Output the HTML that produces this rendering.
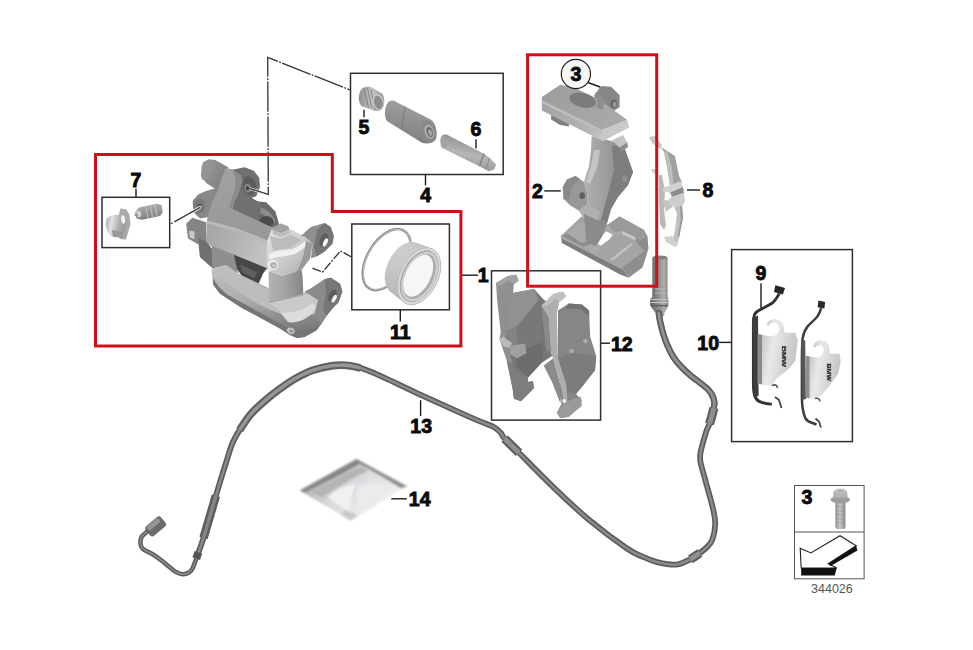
<!DOCTYPE html>
<html lang="en">
<head>
<meta charset="utf-8">
<title>Rear brake caliper parts diagram 344026</title>
<style>
html,body{margin:0;padding:0;background:#fff;}
body{width:973px;height:650px;overflow:hidden;}
svg{display:block;}
.lbl{font-family:"Liberation Sans",Arial,sans-serif;font-weight:bold;font-size:19.5px;fill:#0a0a0a;stroke:#0a0a0a;stroke-width:0.9px;text-anchor:middle;}
.box{fill:none;stroke:#2e2e2e;stroke-width:1.5px;}
.ld{stroke:#1c1c1c;stroke-width:1.4px;fill:none;}
.red{fill:none;stroke:#cd1019;stroke-width:3px;stroke-linejoin:miter;}
</style>
</head>
<body>
<svg width="973" height="650" viewBox="0 0 973 650">
<defs>
<filter id="soft" x="-5%" y="-5%" width="110%" height="110%"><feGaussianBlur stdDeviation="0.6"/></filter>
<filter id="soft2" x="-5%" y="-5%" width="110%" height="110%"><feGaussianBlur stdDeviation="1.1"/></filter>
<linearGradient id="cab" x1="0" y1="0" x2="0" y2="1"><stop offset="0" stop-color="#9a9a9a"/><stop offset="1" stop-color="#5c5c5c"/></linearGradient>
</defs>
<rect width="973" height="650" fill="#ffffff"/>

<!-- ===== PARTS ===== -->
<g id="parts">
<!-- 10_caliper.svg -->
<g id="caliper" filter="url(#soft)">
<defs>
<linearGradient id="cgA" x1="0" y1="0" x2="0" y2="1"><stop offset="0" stop-color="#a2a2a2"/><stop offset="1" stop-color="#979797"/></linearGradient>
<linearGradient id="cgF" x1="0" y1="0" x2="1" y2="0.4"><stop offset="0" stop-color="#a3a3a3"/><stop offset="0.6" stop-color="#b4b4b4"/><stop offset="1" stop-color="#c2c2c2"/></linearGradient>
<linearGradient id="cgBr" x1="0" y1="0" x2="0.3" y2="1"><stop offset="0" stop-color="#c2c2c2"/><stop offset="0.5" stop-color="#adadad"/><stop offset="1" stop-color="#7a7a7a"/></linearGradient>
<linearGradient id="cgCyl" x1="0" y1="0" x2="1" y2="0.7"><stop offset="0" stop-color="#9a9a9a"/><stop offset="1" stop-color="#7e7e7e"/></linearGradient>
<linearGradient id="cgCol" x1="0" y1="0" x2="1" y2="0"><stop offset="0" stop-color="#b2b2b2"/><stop offset="0.45" stop-color="#a4a4a4"/><stop offset="1" stop-color="#858585"/></linearGradient>
<linearGradient id="cgEnd" x1="0" y1="0" x2="1" y2="1"><stop offset="0" stop-color="#e6e6e6"/><stop offset="0.5" stop-color="#cdcdcd"/><stop offset="1" stop-color="#a9a9a9"/></linearGradient>
</defs>
<!-- left bracket -->
<path d="M186.2,223.8 L192.3,217.7 L206.2,222.3 L207,250 L212.3,249.2 L212.5,268 L200,256.9 L198.5,244.6 L188,238.5 Z" fill="#858585"/>
<path d="M198.5,238 L207,242 L212.3,249.2 L212.5,268 L200,256.9 Z" fill="#707070"/>
<path d="M189.2,230.5 L194.4,231.5 L194.6,239.2 L189.6,237.6 Z" fill="#c8c8c8"/>
<!-- left boss -->
<path d="M192.6,201 L198,194.4 L206,191 L218,187.5 L226,191 L216,206 L208.5,217 L200,218.6 L193.6,212.5 Z" fill="#888"/>
<ellipse cx="199.2" cy="206.2" rx="6.2" ry="7.4" fill="#7a7a7a"/>
<ellipse cx="199.8" cy="206.8" rx="2.7" ry="3" fill="#525252"/>
<ellipse cx="200.6" cy="207" rx="1.2" ry="1.3" fill="#d6d6d6"/>
<!-- top cylinder -->
<path d="M201.5,166.9 L203.1,162.3 L208.5,159.2 L215.4,160 L228.5,167.5 L226,176 L220,192 L206.2,183.1 L201.5,176.2 Z" fill="url(#cgCyl)"/>
<ellipse cx="207" cy="171" rx="5.2" ry="9.6" fill="#949494" transform="rotate(22 207 171)"/>
<!-- dark boss right -->
<path d="M231,170 L244.6,167.2 L253.8,170.8 L259.2,177.7 L260,186.9 L256.2,196.2 L247.7,199.2 L238,200 Z" fill="#6f6f6f"/>
<ellipse cx="249.4" cy="185.6" rx="6.6" ry="9.4" fill="#5b5b5b" transform="rotate(-15 249.4 185.6)"/>
<ellipse cx="247.8" cy="188.2" rx="3.2" ry="4.2" fill="#8c8c8c" transform="rotate(-15 247.8 188.2)"/>
<ellipse cx="247.6" cy="188.4" rx="1.7" ry="2.4" fill="#444" transform="rotate(-15 247.6 188.4)"/>
<!-- second dark cylinder -->
<path d="M238,198 L252.3,200.8 L266.2,202.3 L275.4,211.5 L278.5,222.3 L280,232 L268,228 L240,212 Z" fill="#6a6a6a"/>
<path d="M246,210 C256,203.5 270,207 276,222 L270,223 C266,213.5 257,210.5 249,214 Z" fill="#8b8b8b"/>
<ellipse cx="266.5" cy="221.6" rx="7" ry="5.6" fill="#4c4c4c"/>
<path d="M236,186 L252,198 L262,204 L258,222 L232,210 Z" fill="#707070"/>
<!-- arm + top face -->
<path d="M225.4,168.2 L232.3,169.2 L240.8,175.4 L242.3,180.8 L239.2,190.8 L233.8,203.8 L232.4,209 L272.5,227.5 L268,242 L236.5,229 L207,221 L207.7,216.2 L211.5,203.8 L216.2,194.6 L220.8,180.8 Z" fill="url(#cgA)"/>
<path d="M232.3,169.2 L240.8,175.4 L242.3,180.8 L239.2,190.8 L233.8,203.8 L232.4,209 L229,206.5 L234.5,190 L235.5,178 Z" fill="#8b8b8b"/>
<!-- front face -->
<path d="M206.8,220.5 L236.5,228.2 L268,240.7 L268,270 L213,247.8 L207,243 Z" fill="url(#cgF)"/>
<path d="M206.8,220.5 L236.5,228.2 L268,240.7 L268,244 L236,231.5 L206.8,223.5 Z" fill="#b9b9b9"/>
<!-- right end block -->
<path d="M267,241 L272.5,227.5 L277,229 L289,228.2 L304.3,236.5 L312.6,243.4 L309.9,258.7 L301.6,269.7 L282,276 L269.7,272.5 L266.5,262 Z" fill="url(#cgEnd)"/>
<!-- raised small block -->
<path d="M271.8,227.6 L280.8,223.6 L288.4,226.2 L289.2,229.8 L280.8,233.2 L272.5,230.3 Z" fill="#a3a3a3"/>
<path d="M272.5,230.3 L280.8,233.2 L289.2,229.8 L289.5,233.5 L281,237 L272.8,234 Z" fill="#bdbdbd"/>
<!-- right block top face mid tone -->
<path d="M270,236 L281,238.5 L291,234.5 L301,240 L290,248 L273,250.5 Z" fill="#bcbcbc"/>
<!-- highlight edge -->
<path d="M268.5,254.5 C274,250.5 282,250.8 291.5,249.2 C298,247 302,243.5 305.7,240.7 L309,242 C306,247 300,252 293,254.5 C284,257 276,256 270,259.5 Z" fill="#f1f1f1"/>
<!-- right shaded face -->
<path d="M305.7,240.7 L312.6,243.4 L309.9,258.7 L301.6,269.7 L296,272 C302,263 305,252 305.7,240.7 Z" fill="#9a9a9a"/>
<!-- bolt ring -->
<circle cx="272.6" cy="265" r="5.3" fill="#e9e9e9"/>
<circle cx="273.5" cy="265.3" r="3.1" fill="#a9a9a9"/>
<circle cx="274" cy="265.6" r="1.8" fill="#c9c9c9"/>
<!-- right upper ear -->
<path d="M300.8,236 L310.8,226.9 L324.6,223.1 L330.8,226.9 L333.8,236.2 L332.3,243.8 L324.6,251.5 L316.9,256.2 L311,258.5 L312.6,243.4 L304.3,236.5 Z" fill="#8f8f8f"/>
<path d="M317,230 L324.6,223.1 L330.8,226.9 L333.8,236.2 L332.3,243.8 L324.6,251.5 L316.9,256.2 L314,248 Z" fill="#747474"/>
<ellipse cx="323.8" cy="239.6" rx="3.6" ry="6.8" fill="#5c5c5c" transform="rotate(24 323.8 239.6)"/>
<ellipse cx="325.4" cy="242.4" rx="2" ry="4.4" fill="#f4f4f4" transform="rotate(24 325.4 242.4)"/>
<!-- under-body -->
<path d="M212,246 L234.5,254.8 L238.5,276 L226,266 L212,268.5 Z" fill="#8e8e8e"/>
<path d="M234,254.8 L267,268.2 L263,273.5 L258.5,284 L241.5,275.4 L237,269.2 Z" fill="#464646"/>
<path d="M240,264.5 L257,272 L254.5,278.5 L242,272 Z" fill="#5f5f5f"/>
<path d="M259.8,284 L264.6,276.6 L268.2,287.4 Z" fill="#fff"/>
<!-- column -->
<path d="M268.5,271.5 L282,276 L301.6,269.7 L302.5,275 L303.5,297 L269.2,305 Z" fill="url(#cgCol)"/>
<!-- lower bridge -->
<path d="M211.5,268.5 L226,265 L241.5,275.4 L268.8,288 L269.2,301.5 L303,294 L310.8,288.5 L324.6,279.2 L330.8,277.7 L340,283.8 L342.3,291.5 L338.5,302.3 L332.3,308.5 L326.2,316.2 L321.5,323.8 L316.9,330 L304.6,337 L297,337.9 L290,335 L280,328.5 L241.5,307.7 L220,293.8 L213,284.6 Z" fill="url(#cgBr)"/>
<!-- bridge top bright surface -->
<path d="M213,270 L226,266.5 L241.5,277 L268.5,290 L269.2,303 L283,314.6 C262,308 234,292 213,270 Z" fill="#bdbdbd"/>
<path d="M269.2,303 L303,295.5 L311,290 L321.5,296.5 L318.5,311.5 C308,318 294,319 283,314.6 Z" fill="#c9c9c9"/>
<path d="M280,312 C292,314 305,310 312,303 L316,306 C312,318 298,324 288,322 Z" fill="#dcdcdc"/>
<!-- bridge lower dark edge -->
<path d="M213,284.6 L220,293.8 L241.5,307.7 L280,328.5 L290,335 L297,337.9 L304.6,337 L316.9,330 L318,326 C308,332 296,332 286,327 L228,295 C221,290 216,284 213.5,278 Z" fill="#747474"/>
<!-- lower ear -->
<path d="M304.6,291.5 L310.8,288.5 L324.6,279.2 L330.8,277.7 L340,283.8 L342.3,291.5 L338.5,302.3 L332.3,308.5 L326.2,316.2 L321.5,323.8 L314,316 L318,300 Z" fill="#8b8b8b"/>
<path d="M324.6,279.2 L330.8,277.7 L340,283.8 L342.3,291.5 L338.5,302.3 L332.3,308.5 L326.2,316.2 L323,309 L326,294 Z" fill="#777"/>
<ellipse cx="332.4" cy="295.4" rx="3.4" ry="6.4" fill="#5c5c5c" transform="rotate(28 332.4 295.4)"/>
<ellipse cx="334.2" cy="298.6" rx="1.9" ry="4.2" fill="#f4f4f4" transform="rotate(28 334.2 298.6)"/>
<!-- small boss at bottom -->
<ellipse cx="290.8" cy="330.8" rx="4" ry="3" fill="#cbcbcb" transform="rotate(25 290.8 330.8)"/>
<ellipse cx="291.3" cy="331.1" rx="2.3" ry="1.6" fill="#949494" transform="rotate(25 291.3 331.1)"/>
</g>

<!-- 20_carrier.svg -->
<g id="carrier" filter="url(#soft)">
<defs>
<linearGradient id="kgTop" x1="0" y1="0" x2="1" y2="0.5"><stop offset="0" stop-color="#9c9c9c"/><stop offset="1" stop-color="#a9a9a9"/></linearGradient>
<linearGradient id="kgFront" x1="0" y1="0" x2="1" y2="0.4"><stop offset="0" stop-color="#a2a2a2"/><stop offset="0.7" stop-color="#b4b4b4"/><stop offset="1" stop-color="#cfcfcf"/></linearGradient>
<linearGradient id="kgCol" x1="0" y1="0" x2="1" y2="0"><stop offset="0" stop-color="#b5b5b5"/><stop offset="0.4" stop-color="#a2a2a2"/><stop offset="1" stop-color="#858585"/></linearGradient>
<linearGradient id="kgBase" x1="0" y1="0" x2="1" y2="0.6"><stop offset="0" stop-color="#a0a0a0"/><stop offset="1" stop-color="#b1b1b1"/></linearGradient>
</defs>
<!-- back boss -->
<path d="M594.2,95.3 L601,86 L611.2,86.8 L619.6,95.3 L619.6,107.2 L611.2,112.5 L596,105.5 Z" fill="#878787"/>
<ellipse cx="613.7" cy="103.8" rx="3.2" ry="4.2" fill="#666"/>
<ellipse cx="614.5" cy="104.4" rx="1.8" ry="2.6" fill="#9a9a9a"/>
<!-- under-left block -->
<path d="M551.1,112 L568.9,118 L568.9,126.5 L560,125 L551.1,119.5 Z" fill="#808080"/>
<!-- column upper -->
<path d="M591.7,136 L623,144 L629.8,163 L633,172 L627.9,185.3 L617.8,197.2 L611,209 L607.6,221 L602.5,236 L595.8,246 L586,240 L584,214 L578.9,210.7 L587.3,203.9 L587.3,193.8 L583.9,181.9 L589,166 L590.9,151.2 Z" fill="url(#kgCol)"/>
<!-- column right dark side -->
<path d="M612,146 L623,144 L629.8,163 L633,172 L627.9,185.3 L617.8,197.2 L611,209 L607.6,221 L602.5,236 L598,232 L603,212 L609,190 L614,170 Z" fill="#7d7d7d"/>
<ellipse cx="624.6" cy="178.6" rx="2.6" ry="3.3" fill="#8f8f8f"/>
<!-- column highlight -->
<path d="M594,150 L600,150 L597,168 L590,184 L586,182 L591,166 Z" fill="#c4c4c4"/>
<!-- tab at right below bar -->
<path d="M612,140.2 L623,135.1 L627.2,141.9 L619.6,147.8 Z" fill="#c6c6c6"/>
<path d="M619.6,147.8 L627.2,141.9 L628,147 L621,152 Z" fill="#8c8c8c"/>
<!-- top bar: top face -->
<path d="M541.8,97 L560.4,84.8 L575,88 L600,100 L627.2,119.9 L601.9,130 L541.8,100.4 Z" fill="url(#kgTop)"/>
<!-- groove -->
<ellipse cx="582.6" cy="100.2" rx="13.5" ry="7.2" fill="#7c7c7c" transform="rotate(14 582.6 100.2)"/>
<path d="M594,92 C598,96 599,102 596,107 L603,110 L604,97 Z" fill="#8e8e8e"/>
<!-- front face -->
<path d="M541.8,100.4 L601.9,130 L627.2,119.9 L628.9,127.5 L602.7,141 L541.8,110.5 Z" fill="url(#kgFront)"/>
<path d="M601.9,130 L627.2,119.9 L628.9,127.5 L602.7,141 Z" fill="#c9c9c9"/>
<path d="M541.8,100.4 L601.9,130 L602.2,133 L541.8,103 Z" fill="#bdbdbd"/>
<!-- left boss (mid) -->
<path d="M562.8,187 L567,179.4 L575.5,176 L583.9,181.9 L587.3,193.8 L587.3,203.9 L578.9,210.7 L570.4,205.6 L563.6,198.9 Z" fill="#989898"/>
<path d="M562.8,187 L567,179.4 L575.5,176 L580,179 L572,186 L569,200 L563.6,198.9 Z" fill="#8a8a8a"/>
<ellipse cx="582.2" cy="195.6" rx="2.8" ry="3.4" fill="#5e5e5e"/>
<!-- column foot ledge -->
<path d="M578.9,210.7 L587.3,203.9 L600,212 L596,222 L588,226 Z" fill="#b0b0b0"/>
<!-- base: top face -->
<path d="M560.8,236.1 L581.5,216.5 L600,224 L608,224.6 L619.6,216.5 L643.8,229.8 L647.3,236.1 L648.4,248.8 L621.9,267.3 Z" fill="url(#kgBase)"/>
<!-- left raised pad -->
<path d="M567.7,233.8 L581.5,222.3 L590.8,226.9 L588.4,240.5 L582,243 Z" fill="#a9a9a9"/>
<path d="M562.5,236.2 L567.7,233.8 L582,243 L588.4,240.5 L590,244 L583.5,247.2 Z" fill="#8d8d8d"/>
<!-- right raised block -->
<path d="M608,224.6 L619.6,216.5 L643.8,229.8 L647.3,236.1 L640,240.5 L635.7,237.3 L622,231 L614,232 Z" fill="#9a9a9a"/>
<path d="M622,231 L635.7,237.3 L635.7,240.6 L622,234.6 Z" fill="#c6c6c6"/>
<path d="M635.7,237.3 L640,240.5 L647.3,236.1 L648.4,248.8 L643.8,251.1 L636,243 Z" fill="#8c8c8c"/>
<!-- mid plateau -->
<path d="M601.1,245.4 L609.2,239.6 L612.7,235 L622,234.6 L635.7,240.6 L643.8,251.1 L621.9,267.3 L596,254 Z" fill="#a4a4a4"/>
<path d="M610.4,259.2 L631.1,243.1 L633,244.6 L612.4,260.8 Z" fill="#c2c2c2"/>
<path d="M621.9,267.3 L643.8,251.1 L644.6,253 L623,269 Z" fill="#c9c9c9"/>
<!-- white gap -->
<path d="M597.7,244.2 C600,238 603,233.5 606.9,231.5 L612.7,235 L609.2,239.6 C606,242 603.5,244 601.1,245.4 Z" fill="#ffffff"/>
<!-- base front face -->
<path d="M560.8,236.1 L621.9,267.3 L628.8,277.7 L619.6,274.2 L561.9,243.1 Z" fill="#7e7e7e"/>
<path d="M560.8,236.1 L621.9,267.3 L622.5,269.5 L561,238.2 Z" fill="#a9a9a9"/>
<!-- base end face -->
<path d="M621.9,267.3 L643.8,251.1 L648.4,248.8 L642.7,267.3 L628.8,277.7 Z" fill="#8f8f8f"/>
<!-- column lower (in front of base) -->
<path d="M584,214 L597,220 L607.6,221 L602.5,236 L596,246 L589,243.5 L586,240 Z" fill="#8b8b8b"/>
</g>

<!-- 30_pads.svg -->
<g id="pads" filter="url(#soft)">
<!-- left pad back plate -->
<path d="M496,283.1 L507.9,276 L516.2,274.8 L518.6,280.7 L513.9,284.3 L512.7,296.2 L520,330 L528,372 L528.2,382.1 L532.9,380.9 L534.1,388.1 L521,401.2 L513.9,398.8 L512.7,389.3 L506.7,360.6 L499.5,339.2 L500.7,332 L497.2,301 Z" fill="#909090"/>
<path d="M496,283.1 L507.9,276 L516.2,274.8 L518.6,280.7 L513.9,284.3 L509,281 L500,286 Z" fill="#a2a2a2"/>
<path d="M506.7,360.6 L526,372 L528.2,382.1 L532.9,380.9 L534.1,388.1 L521,401.2 L513.9,398.8 L512.7,389.3 Z" fill="#7d7d7d"/>
<!-- left friction block -->
<path d="M506.7,301 L513.9,292.7 L534.1,289.1 L543.7,299.8 L541.3,317.7 L544.9,327.3 L543.7,360.6 L528.2,377.3 L513.9,370.2 L506.7,341.6 Z" fill="#787878"/>
<path d="M506.7,301 L513.9,292.7 L534.1,289.1 L538.5,300 L516.2,327.3 L506.7,331 Z" fill="#919191"/>
<path d="M506.7,331 L516.2,327.3 L518,352 L512,358 Z" fill="#848484"/>
<path d="M518,352 L543,342 L543.7,360.6 L528.2,377.3 L516,366 Z" fill="#6c6c6c"/>
<!-- clip bits left -->
<path d="M499.5,339.2 L503,336.5 L512,343 L510,348.5 L503,346 Z" fill="#bababa"/>
<path d="M509,346 L525,343.5 L526.5,353 L517,358.5 L510,354 Z" fill="#a0a0a0"/>
<path d="M540,298 L550,303 L552,356 L543,362 Z" fill="#747474"/>
<!-- right pad: lower-left portion -->
<path d="M543.7,365.4 L553.2,358.3 L561.6,389.3 L560.4,403.6 L552,382.1 Z" fill="#8b8b8b"/>
<!-- right pad main plate -->
<path d="M558,310.6 L568.7,303.4 L581.8,304.6 L589,310.6 L590.2,336.8 L596.2,355.9 L595,370.2 L581.8,386.9 L575.9,394 L581.8,400 L580.6,406 L568.7,416.7 L560.4,417.9 L556.8,413.1 L561.6,403.6 L558,358.3 Z" fill="#868686"/>
<path d="M558,358.3 L572,353 L596.2,355.9 L595,370.2 L581.8,386.9 L575.9,394 L566,392 Z" fill="#7c7c7c"/>
<path d="M568.7,303.4 L581.8,304.6 L589,310.6 L589.3,316 L580,309 L566,308.5 Z" fill="#727272"/>
<!-- ear + light strip -->
<path d="M541.3,305.8 L553.2,293.9 L562.8,291.5 L566.3,296.2 L559.2,302.2 L556.8,313 L558,358.3 L566.3,384.5 L567.5,403.6 L564,403.6 L561.6,389.3 L553.2,358.3 L550.8,353.5 L548.4,317.7 Z" fill="#aeaeae"/>
<path d="M541.3,305.8 L553.2,293.9 L562.8,291.5 L566.3,296.2 L559.2,302.2 L556,298.5 L547,306 Z" fill="#c0c0c0"/>
<path d="M541.3,305.8 L548.4,317.7 L550.8,353.5 L546,350 L543,322 Z" fill="#8a8a8a"/>
<!-- bottom ear -->
<path d="M556.8,413.1 L564,402.4 L580.6,396.4 L581.8,406 L568.7,416.7 L560.4,417.9 Z" fill="#9a9a9a"/>
<circle cx="571.6" cy="351.1" r="2.4" fill="#a8a8a8"/>
<circle cx="585.4" cy="341.1" r="2.4" fill="#a8a8a8"/>
<ellipse cx="564.2" cy="401" rx="1.6" ry="2" fill="#fff"/>
</g>

<!-- 40_clips.svg -->
<g id="clips" filter="url(#soft)">
<defs>
<linearGradient id="clA" x1="0" y1="0" x2="1" y2="0.3"><stop offset="0" stop-color="#b2b2b2"/><stop offset="0.45" stop-color="#e9e9e9"/><stop offset="1" stop-color="#c6c6c6"/></linearGradient>
</defs>
<!-- left clip -->
<path d="M779.3,293.4 C777,298 775,301 771.9,303.3 C768,306 764,307.5 760.8,309.4 C757.5,311 755.4,312.5 754.7,314.3 C753.6,317 753.4,320 753.4,324.2 L753.4,383.2 C753.4,388 753.6,392.5 754.7,395.5 C755.6,398.5 757,400.5 759.6,401.6 C763,403 768,404.3 771.9,404.1" fill="none" stroke="#333" stroke-width="2.9"/>
<path d="M752.4,318 L758,315.5 L758.6,396 L753.6,397 Z" fill="#3c3c3c"/>
<path d="M775.3,285.2 L785,288 L782.9,294.4 L774,291.9 Z" fill="#262626"/>
<path d="M757.8,334 L770.7,336.5 C775,336 778,334 779,330.5 C779.8,326.5 777.5,322.5 773.5,322.5 C771,322.5 769.5,324 769,326 L766.5,324 C768,320.5 771.5,318.6 775.6,319.3 C780,320 783,323 784,327 L784.6,332.8 L795.2,332.8 L797.7,340.2 L795.2,361.1 L787.9,369.7 L776.8,378.3 L771.9,385.6 L764.5,385.6 L757.8,383.2 Z" fill="url(#clA)"/>
<path d="M757.8,334 L762,335 L762,384.6 L757.8,383.2 Z" fill="#8a8a8a"/>
<path d="M771.9,385.6 C775,384 777,385 777.5,388" fill="none" stroke="#555" stroke-width="1.6"/>
<path d="M775,397 L779,400 L781.5,408" fill="none" stroke="#444" stroke-width="1.8"/>
<text x="0" y="0" transform="translate(782.4,346) rotate(90)" font-family="'Liberation Sans',Arial,sans-serif" font-weight="bold" font-size="6.2" fill="#333" stroke="#333" stroke-width="0.3" textLength="21" lengthAdjust="spacingAndGlyphs">BMW</text>
<!-- right clip -->
<path d="M821.1,308.2 C820,312 818.5,315.5 816.1,318 C813,321.5 809.8,323.5 807.5,326.6 C805,330 803.2,334 802.6,338.9 C802,345 801.9,352 801.9,360 L801.9,398 C802,405 803,412.5 805.1,417.6 C806.5,420.5 808.5,421.8 811.2,422.5 L816.5,424.5" fill="none" stroke="#3c3c3c" stroke-width="2.5"/>
<path d="M801,342 L805.2,340 L806,399 L802,400 Z" fill="#555"/>
<path d="M818.4,300.6 L825.2,302 L824.4,308.6 L817.6,307.2 Z" fill="#2c2c2c"/>
<path d="M805.8,356.1 L817.4,357.4 C820.5,357 823,355 823.6,351.5 C824,348 822,345.3 819,345.2 C817,345.2 815.8,346.3 815.2,348 L813,346.2 C814.2,342.6 817.4,340.4 821.5,340.2 C825.5,340.2 828.4,343 829.2,347.5 L829.9,353.7 L839.5,353.7 L840.7,361.1 L838.3,373.4 L829.7,385.6 L821.1,395.5 L815,398.5 L805.8,398 Z" fill="url(#clA)"/>
<path d="M805.8,356.1 L809.5,356.6 L809.5,398.2 L805.8,398 Z" fill="#8e8e8e"/>
<path d="M815,398.5 C818,397.5 819.5,399 820,401.5" fill="none" stroke="#555" stroke-width="1.5"/>
<path d="M815.5,418.5 L819,421.5 L821,427.5" fill="none" stroke="#444" stroke-width="1.7"/>
<text x="0" y="0" transform="translate(826.8,363.5) rotate(90)" font-family="'Liberation Sans',Arial,sans-serif" font-weight="bold" font-size="5.6" fill="#333" stroke="#333" stroke-width="0.3" textLength="17.5" lengthAdjust="spacingAndGlyphs">BMW</text>
</g>

<!-- 50_box4.svg -->
<g id="box4parts" filter="url(#soft)">
<defs>
<linearGradient id="b4s" x1="0.3" y1="0" x2="0" y2="1"><stop offset="0" stop-color="#9f9f9f"/><stop offset="0.5" stop-color="#8c8c8c"/><stop offset="1" stop-color="#787878"/></linearGradient>
<linearGradient id="b4p" x1="0.35" y1="0" x2="0" y2="1"><stop offset="0" stop-color="#8c8c8c"/><stop offset="0.45" stop-color="#b6b6b6"/><stop offset="1" stop-color="#7d7d7d"/></linearGradient>
<linearGradient id="b4r" x1="0" y1="0" x2="1" y2="0"><stop offset="0" stop-color="#8e8e8e"/><stop offset="0.5" stop-color="#c4c4c4"/><stop offset="1" stop-color="#9a9a9a"/></linearGradient>
</defs>
<!-- part 5 ring -->
<path d="M361,90 C363,86.5 368,85.5 372,87.5 L382,93.5 C385,97 385,105 382,109 C379,112 375,111.5 372,110 L361.5,106 C358,102 358,94 361,90 Z" fill="url(#b4r)"/>
<path d="M364,88.5 L368.5,107.5 M367.5,88 L372,108.5 M371,89.5 L375,110" stroke="#858585" stroke-width="1.1" fill="none"/>
<ellipse cx="378" cy="102" rx="5.6" ry="8.2" fill="#c6c6c6" transform="rotate(-14 378 102)"/>
<ellipse cx="378.3" cy="102.4" rx="4.2" ry="6.8" fill="#8e8e8e" transform="rotate(-14 378.3 102.4)"/>
<!-- sleeve -->
<path d="M387,104 C389,100.5 392,100 394.4,101 L430.7,119.4 C436,123 438,132 435,139 C432.5,143.5 427,144.5 421.5,142.5 L386.9,121.1 C384,116 384.5,108 387,104 Z" fill="url(#b4s)"/>
<path d="M405,106.5 L401.5,129.5" stroke="#7a7a7a" stroke-width="1" fill="none"/>
<ellipse cx="428.6" cy="131.4" rx="7.6" ry="11.6" fill="#8a8a8a" transform="rotate(-20 428.6 131.4)"/>
<ellipse cx="429.4" cy="131.8" rx="4.6" ry="7.2" fill="#b0b0b0" transform="rotate(-20 429.4 131.8)"/>
<ellipse cx="429.8" cy="132" rx="3.2" ry="5.4" fill="#6c6c6c" transform="rotate(-20 429.8 132)"/>
<ellipse cx="430.3" cy="132.6" rx="1.9" ry="3.4" fill="#a4a4a4" transform="rotate(-20 430.3 132.6)"/>
<!-- pin 6 -->
<path d="M441.6,136.5 C443,134.3 445.2,134 447.1,134.8 L484,153.7 L489.5,157.8 L496.2,164.5 L494.2,169.6 L488.7,171.2 L479.4,166.2 L441.6,147.7 C440,144.5 440,139.5 441.6,136.5 Z" fill="url(#b4p)"/>
<ellipse cx="443.8" cy="141.6" rx="3" ry="6.4" fill="#a2a2a2" transform="rotate(-12 443.8 141.6)"/>
<path d="M484,153.7 L479.4,166.2" stroke="#7c7c7c" stroke-width="1.2"/>
<path d="M489.5,157.8 L486,169.6" stroke="#8a8a8a" stroke-width="1"/>
</g>

<!-- 60_box7.svg -->
<g id="box7parts" filter="url(#soft)">
<defs>
<linearGradient id="b7a" x1="0" y1="0" x2="1" y2="0.2"><stop offset="0" stop-color="#a8a8a8"/><stop offset="0.35" stop-color="#e2e2e2"/><stop offset="0.7" stop-color="#b0b0b0"/><stop offset="1" stop-color="#9c9c9c"/></linearGradient>
<linearGradient id="b7b" x1="0" y1="0" x2="0.2" y2="1"><stop offset="0" stop-color="#b0b0b0"/><stop offset="0.5" stop-color="#9a9a9a"/><stop offset="1" stop-color="#7e7e7e"/></linearGradient>
</defs>
<!-- cap -->
<path d="M120.5,208.5 L126.5,209.5 L129.5,215 L130.5,224 L128,233 L126,239.5 L120,239 L117,232 L118,218 Z" fill="#a9a9a9"/>
<path d="M106,221 C107,217 110,215.5 114,215 L124,214.5 L126,222 L125,231 L121,237 L112.5,236.5 C108,235 105,228 106,221 Z" fill="url(#b7a)"/>
<ellipse cx="123.2" cy="219.5" rx="2" ry="4.2" fill="#f2f2f2" transform="rotate(-8 123.2 219.5)"/>
<path d="M112,230 L124,232 L122.5,238 L113,236.8 Z" fill="#9a9a9a"/>
<!-- bleeder screw -->
<path d="M135,212.5 L139,207.5 L157,203.8 L161.5,205 L162.7,212.5 L160,216 L142,219.8 L136.5,218.5 Z" fill="url(#b7b)"/>
<path d="M146,206.5 L148,218 M150.5,205.5 L152.5,217.2 M155,204.7 L157,216.4" stroke="#bdbdbd" stroke-width="1.2" fill="none"/>
<ellipse cx="138.6" cy="214" rx="2.6" ry="3.4" fill="#d0d0d0" transform="rotate(-12 138.6 214)"/>
<path d="M134.3,215.5 L137,213 L138,217 Z" fill="#8a8a8a"/>
</g>

<!-- 70_box11.svg -->
<g id="box11parts" filter="url(#soft)">
<defs><linearGradient id="sealg" gradientUnits="userSpaceOnUse" x1="415" y1="238" x2="395" y2="300"><stop offset="0" stop-color="#dedede"/><stop offset="0.35" stop-color="#c2c2c2"/><stop offset="1" stop-color="#a6a6a6"/></linearGradient></defs>
<ellipse cx="386.7" cy="259.6" rx="33.6" ry="19.3" transform="rotate(-58.9 386.7 259.6)" fill="none" stroke="#8f8f8f" stroke-width="2.5"/>
<ellipse cx="386.9" cy="259.4" rx="33.2" ry="19" transform="rotate(-58.9 386.9 259.4)" fill="none" stroke="#cdcdcd" stroke-width="0.8"/>
<ellipse cx="404.2" cy="267.8" rx="27.6" ry="16.8" transform="rotate(-63.5 404.2 267.8)" fill="url(#sealg)"/>
<ellipse cx="405.6" cy="268.6" rx="27.9" ry="17.0" transform="rotate(-63.5 405.6 268.6)" fill="url(#sealg)"/>
<ellipse cx="406.9" cy="269.3" rx="28.1" ry="17.2" transform="rotate(-63.5 406.9 269.3)" fill="url(#sealg)"/>
<ellipse cx="408.3" cy="270.1" rx="28.4" ry="17.4" transform="rotate(-63.5 408.3 270.1)" fill="url(#sealg)"/>
<ellipse cx="409.7" cy="270.9" rx="28.6" ry="17.6" transform="rotate(-63.5 409.7 270.9)" fill="url(#sealg)"/>
<ellipse cx="411.0" cy="271.7" rx="28.9" ry="17.8" transform="rotate(-63.5 411.0 271.7)" fill="url(#sealg)"/>
<ellipse cx="412.4" cy="272.4" rx="29.1" ry="17.9" transform="rotate(-63.5 412.4 272.4)" fill="url(#sealg)"/>
<ellipse cx="413.7" cy="273.2" rx="29.4" ry="18.1" transform="rotate(-63.5 413.7 273.2)" fill="url(#sealg)"/>
<ellipse cx="415.1" cy="274.0" rx="29.6" ry="18.3" transform="rotate(-63.5 415.1 274.0)" fill="url(#sealg)"/>
<ellipse cx="416.5" cy="274.8" rx="29.9" ry="18.5" transform="rotate(-63.5 416.5 274.8)" fill="url(#sealg)"/>
<ellipse cx="417.8" cy="275.5" rx="30.1" ry="18.7" transform="rotate(-63.5 417.8 275.5)" fill="url(#sealg)"/>
<ellipse cx="419.2" cy="276.3" rx="30.4" ry="18.9" transform="rotate(-63.5 419.2 276.3)" fill="url(#sealg)"/>
<ellipse cx="419.2" cy="276.3" rx="30.4" ry="18.9" transform="rotate(-63.5 419.2 276.3)" fill="#dcdcdc" stroke="#b0b0b0" stroke-width="0.6"/>
<ellipse cx="419.2" cy="276.3" rx="27.8" ry="16.8" transform="rotate(-63.5 419.2 276.3)" fill="#a9a9a9" />
<ellipse cx="419.6" cy="276.6" rx="26.6" ry="15.8" transform="rotate(-63.5 419.6 276.6)" fill="#cfcfcf" />
<ellipse cx="419.4" cy="276.5" rx="24.2" ry="13.8" transform="rotate(-63.5 419.4 276.5)" fill="#adadad" />
<ellipse cx="418.2" cy="275.7" rx="22.6" ry="12.4" transform="rotate(-63.5 418.2 275.7)" fill="#f6f6f6" />
</g>
<!-- 80_part8.svg -->
<g id="part8" filter="url(#soft)">
<path d="M649,137 L655,136 L662,145 L660,149 L652,143 Z" fill="#c6c6c6"/>
<path d="M651,169 L655,169 L657,173.4 L653,173.4 Z" fill="#cfcfcf"/>
<path d="M659,175 L661.8,175 L665,190 L664,208 L666,226 L664,230 L660,224 L659,200 Z" fill="#b9b9b9"/>
<path d="M661,147 L675,156 L679,176 L682,182 L680,184 L670,185.5 L667,166 L664,152 Z" fill="#a0a0a0"/>
<path d="M664,152 L667,150.8 L672,168 L673.5,185 L670,185.5 L667,166 Z" fill="#bdbdbd"/>
<path d="M663,188 L681,181 L683,187 L670,192.4 L663,191.2 Z" fill="#d2d2d2"/>
<path d="M670,192.4 L683,187 L684,193 L672,197 Z" fill="#8c8c8c"/>
<path d="M671,197 L684,193 L685,201 L683,205 L673,206.4 L668,200.5 Z" fill="#cdcdcd"/>
<path d="M662,200 L668,200.5 L673,206.4 L666,212 Z" fill="#c4c4c4"/>
<path d="M674,206.4 L682,205 L683,218 L679,238 L677,245 L672,242 L675,230 L677,214 Z" fill="#c0c0c0"/>
<path d="M680,207 L682,205 L683,218 L679,238 L677.6,236 L680.6,220 Z" fill="#9c9c9c"/>
<path d="M664,237 L672,236 L678,245 L675,247 L666,242 Z" fill="#d0d0d0"/>
</g>

<!-- 85_part14.svg -->
<g id="part14" filter="url(#soft2)">
<defs>
<linearGradient id="p14" gradientUnits="userSpaceOnUse" x1="330" y1="470" x2="375" y2="515"><stop offset="0" stop-color="#b9b9b9"/><stop offset="0.35" stop-color="#d6d8da"/><stop offset="0.7" stop-color="#e3e5e7"/><stop offset="1" stop-color="#f0f0f0"/></linearGradient>
</defs>
<path d="M299.7,490.5 L356.5,459.1 L407.3,486.3 L350.6,520.6 Z" fill="url(#p14)"/>
<path d="M299.7,490.5 L356.5,459.1 L363,462.5 C352,468 338,477 326,482 C318,486 311,490 305,492.5 Z" fill="#878787"/>
<path d="M356.5,459.1 L407.3,486.3 L401,488.5 C388,480 374,472 359,464 Z" fill="#909090"/>
<path d="M312,492 C322,487 334,480 345,474 C352,470 358,467 362,467 L368,471 C356,476 340,486 322,497 Z" fill="#b4b4b4"/>
<path d="M328,497 C336,489 348,484 356,484 C352,492 350,502 351,512 C342,508 334,503 328,497 Z" fill="#eef0f2"/>
<path d="M358,486 C368,482 380,483 390,487 C380,494 368,502 358,508 C356,500 356,492 358,486 Z" fill="#e9ebed"/>
<path d="M350.6,520.6 L358,516 L346,510 L340,514 Z" fill="#c9c9c9"/>
</g>

<!-- 90_sensor.svg -->
<g id="sensor" filter="url(#soft)">
<defs>
<linearGradient id="sng" x1="0" y1="0" x2="1" y2="0"><stop offset="0" stop-color="#626262"/><stop offset="0.35" stop-color="#858585"/><stop offset="0.75" stop-color="#adadad"/><stop offset="1" stop-color="#858585"/></linearGradient>
</defs>
<path d="M652.3,257.5 C654,255.6 665.8,255.6 667.6,257.5 L667.6,297 L668.4,299 L668.4,305.5 L664.4,313 L664.2,316 L655.8,316 L655.6,313 L650.2,305.5 L650.2,299 L652.3,297 Z" fill="url(#sng)"/>
<ellipse cx="660" cy="257.4" rx="7.4" ry="1.8" fill="#808080"/>
<path d="M650.4,299.5 L668.4,299.5 M650.4,302.5 L668.4,302.5" stroke="#c4c4c4" stroke-width="1"/>
<path d="M651,305.6 L667.6,305.6" stroke="#5c5c5c" stroke-width="1.4"/>
<path d="M655,289 L666,289 M655,293 L666,293" stroke="#c0c0c0" stroke-width="0.9"/>
</g>
<g id="connector" filter="url(#soft)">
<g transform="rotate(-40 155.6 526.4)"><rect x="145.6" y="520.2" width="20" height="12.4" rx="3.2" fill="#6c6c6c"/><rect x="147.4" y="521" width="15.5" height="5" rx="2" fill="#949494"/></g>
</g>

<!-- 95_bolt_arrow.svg -->
<g id="boltarrow">
<g filter="url(#soft)">
<defs>
<linearGradient id="blt" x1="0" y1="0" x2="1" y2="0"><stop offset="0" stop-color="#8c8c8c"/><stop offset="0.45" stop-color="#c9c9c9"/><stop offset="1" stop-color="#858585"/></linearGradient>
</defs>
<rect x="835.4" y="500" width="10" height="29" rx="2.2" fill="url(#blt)"/>
<path d="M835.4,506 L845.4,508 M835.4,510 L845.4,512 M835.4,514 L845.4,516 M835.4,518 L845.4,520 M835.4,522 L845.4,524" stroke="#9a9a9a" stroke-width="0.8"/>
<ellipse cx="840.3" cy="499.6" rx="9.8" ry="3.8" fill="#9d9d9d"/>
<path d="M832.8,497.8 L833.6,491.2 L837.2,488.8 L843.6,488.8 L847,491.2 L847.8,497.8 Z" fill="#b4b4b4"/>
<ellipse cx="840.3" cy="491" rx="5.6" ry="2.2" fill="#c9c9c9"/>
<path d="M837.6,491 L843,491" stroke="#8a8a8a" stroke-width="1"/>
</g>
<path d="M800.2,548.2 L810.9,553 L840,535.7 L856.2,545.8 L828.2,563.7 L836.8,568 L801.2,568 Z" fill="#fff" stroke="#222" stroke-width="1.1" stroke-linejoin="miter"/>
<path d="M801.2,568 L836.8,568 L834.6,575.6 L801.2,575.6 Z" fill="#111"/>
<path d="M856.2,545.8 L857.4,550.4 L830.6,566 L828.2,563.7 Z" fill="#111"/>
</g>


</g>

<!-- ===== CABLES ===== -->
<g id="cables" fill="none" stroke-linecap="round" stroke-linejoin="round" filter="url(#soft)">
<path d="M146.8,531.9 C145.9,532.8 142.6,535.1 141.5,537.0 C140.4,538.9 140.2,541.5 140.4,543.5 C140.7,545.5 140.9,547.2 143.0,549.0 C145.1,550.8 149.9,552.6 153.0,554.5 C156.1,556.4 158.8,558.4 161.5,560.5 C164.2,562.6 167.1,565.1 169.5,567.0 C171.9,568.9 173.8,570.8 176.0,572.0 C178.2,573.2 180.8,574.2 183.0,574.3 C185.2,574.4 187.4,573.5 189.0,572.5 C190.6,571.5 191.1,571.3 192.5,568.5 C193.9,565.7 196.5,557.8 197.3,555.6" stroke="#5c5c5c" stroke-width="4.6"/>
<path d="M146.8,531.9 C145.9,532.8 142.6,535.1 141.5,537.0 C140.4,538.9 140.2,541.5 140.4,543.5 C140.7,545.5 140.9,547.2 143.0,549.0 C145.1,550.8 149.9,552.6 153.0,554.5 C156.1,556.4 158.8,558.4 161.5,560.5 C164.2,562.6 167.1,565.1 169.5,567.0 C171.9,568.9 173.8,570.8 176.0,572.0 C178.2,573.2 180.8,574.2 183.0,574.3 C185.2,574.4 187.4,573.5 189.0,572.5 C190.6,571.5 191.1,571.3 192.5,568.5 C193.9,565.7 196.5,557.8 197.3,555.6" stroke="#8a8a8a" stroke-width="1.6"/>
<path d="M197.3,555.6 C198.3,552.7 200.4,548.0 203.5,538.0 C206.6,528.0 212.0,509.0 215.9,495.8 C219.8,482.6 224.4,467.8 227.2,459.0 C230.0,450.2 230.4,447.8 232.5,443.0 C234.6,438.2 236.6,434.9 239.6,430.1 C242.6,425.4 246.4,419.3 250.5,414.5 C254.6,409.7 259.5,405.4 264.3,401.2 C269.1,397.0 274.3,393.0 279.5,389.2 C284.7,385.4 289.8,381.7 295.3,378.6 C300.8,375.5 306.5,372.5 312.5,370.4 C318.5,368.3 325.9,366.6 331.5,365.8 C337.1,365.0 341.2,365.0 346.0,365.3 C350.8,365.6 354.2,365.8 360.4,367.8 C366.6,369.8 373.1,372.6 383.1,377.1 C393.1,381.6 407.4,388.7 420.2,394.6 C433.0,400.5 450.0,408.1 460.0,412.6 C470.0,417.1 474.3,419.0 480.0,421.4 C485.7,423.8 490.6,425.3 494.0,427.2 C497.4,429.1 498.7,430.6 500.5,432.5 C502.3,434.4 501.5,435.2 504.6,438.6 C507.7,442.0 511.0,444.8 519.0,452.8 C527.0,460.8 541.0,475.3 552.8,486.6 C564.6,497.9 577.5,510.3 589.9,520.6 C602.3,530.9 618.1,542.5 627.0,548.5 C635.9,554.5 637.8,554.5 643.0,556.8 C648.2,559.1 652.4,561.1 658.0,562.4 C663.6,563.7 671.1,565.1 676.5,564.6 C681.9,564.1 686.5,561.2 690.4,559.3 C694.3,557.4 696.9,555.2 699.7,553.1 C702.6,551.0 705.4,548.9 707.5,546.5 C709.6,544.1 711.3,542.8 712.6,539.0 C713.9,535.2 715.1,528.4 715.2,523.7 C715.4,519.0 714.3,515.1 713.5,511.0 C712.7,506.9 712.3,505.6 710.5,499.0 C708.7,492.4 704.5,477.3 702.8,471.1 C701.1,464.9 700.8,464.3 700.4,461.6 C700.0,458.9 700.0,457.3 700.2,455.0 C700.4,452.7 700.6,451.7 701.6,447.8 C702.6,443.9 704.9,435.6 706.2,431.6 C707.5,427.6 708.5,426.7 709.5,424.0 C710.5,421.3 711.3,418.2 712.0,415.5 C712.7,412.8 713.4,410.3 713.8,408.0 C714.2,405.7 714.7,403.9 714.3,401.6 C713.9,399.3 712.9,396.3 711.5,394.0 C710.1,391.7 709.8,390.9 706.2,387.7 C702.6,384.5 694.2,378.5 690.0,375.0 C685.8,371.5 683.7,369.4 681.0,366.5 C678.3,363.6 676.1,361.2 673.9,357.7 C671.6,354.2 669.2,349.4 667.5,345.5 C665.8,341.6 664.7,338.5 663.5,334.6 C662.3,330.7 661.0,325.6 660.2,322.0 C659.4,318.4 659.1,314.5 658.9,313.0" stroke="#5c5c5c" stroke-width="5.8"/>
<path d="M197.3,555.6 C198.3,552.7 200.4,548.0 203.5,538.0 C206.6,528.0 212.0,509.0 215.9,495.8 C219.8,482.6 224.4,467.8 227.2,459.0 C230.0,450.2 230.4,447.8 232.5,443.0 C234.6,438.2 236.6,434.9 239.6,430.1 C242.6,425.4 246.4,419.3 250.5,414.5 C254.6,409.7 259.5,405.4 264.3,401.2 C269.1,397.0 274.3,393.0 279.5,389.2 C284.7,385.4 289.8,381.7 295.3,378.6 C300.8,375.5 306.5,372.5 312.5,370.4 C318.5,368.3 325.9,366.6 331.5,365.8 C337.1,365.0 341.2,365.0 346.0,365.3 C350.8,365.6 354.2,365.8 360.4,367.8 C366.6,369.8 373.1,372.6 383.1,377.1 C393.1,381.6 407.4,388.7 420.2,394.6 C433.0,400.5 450.0,408.1 460.0,412.6 C470.0,417.1 474.3,419.0 480.0,421.4 C485.7,423.8 490.6,425.3 494.0,427.2 C497.4,429.1 498.7,430.6 500.5,432.5 C502.3,434.4 501.5,435.2 504.6,438.6 C507.7,442.0 511.0,444.8 519.0,452.8 C527.0,460.8 541.0,475.3 552.8,486.6 C564.6,497.9 577.5,510.3 589.9,520.6 C602.3,530.9 618.1,542.5 627.0,548.5 C635.9,554.5 637.8,554.5 643.0,556.8 C648.2,559.1 652.4,561.1 658.0,562.4 C663.6,563.7 671.1,565.1 676.5,564.6 C681.9,564.1 686.5,561.2 690.4,559.3 C694.3,557.4 696.9,555.2 699.7,553.1 C702.6,551.0 705.4,548.9 707.5,546.5 C709.6,544.1 711.3,542.8 712.6,539.0 C713.9,535.2 715.1,528.4 715.2,523.7 C715.4,519.0 714.3,515.1 713.5,511.0 C712.7,506.9 712.3,505.6 710.5,499.0 C708.7,492.4 704.5,477.3 702.8,471.1 C701.1,464.9 700.8,464.3 700.4,461.6 C700.0,458.9 700.0,457.3 700.2,455.0 C700.4,452.7 700.6,451.7 701.6,447.8 C702.6,443.9 704.9,435.6 706.2,431.6 C707.5,427.6 708.5,426.7 709.5,424.0 C710.5,421.3 711.3,418.2 712.0,415.5 C712.7,412.8 713.4,410.3 713.8,408.0 C714.2,405.7 714.7,403.9 714.3,401.6 C713.9,399.3 712.9,396.3 711.5,394.0 C710.1,391.7 709.8,390.9 706.2,387.7 C702.6,384.5 694.2,378.5 690.0,375.0 C685.8,371.5 683.7,369.4 681.0,366.5 C678.3,363.6 676.1,361.2 673.9,357.7 C671.6,354.2 669.2,349.4 667.5,345.5 C665.8,341.6 664.7,338.5 663.5,334.6 C662.3,330.7 661.0,325.6 660.2,322.0 C659.4,318.4 659.1,314.5 658.9,313.0" stroke="#8c8c8c" stroke-width="2.4"/>
<path d="M713.8,408.0 C713.9,406.9 714.7,403.9 714.3,401.6 C713.9,399.3 712.9,396.3 711.5,394.0 C710.1,391.7 709.8,390.9 706.2,387.7 C702.6,384.5 694.2,378.5 690.0,375.0 C685.8,371.5 683.7,369.4 681.0,366.5 C678.3,363.6 676.1,361.2 673.9,357.7 C671.6,354.2 669.2,349.4 667.5,345.5 C665.8,341.6 664.7,338.5 663.5,334.6 C662.3,330.7 661.0,325.6 660.2,322.0 C659.4,318.4 659.1,314.5 658.9,313.0" stroke="#5e5e5e" stroke-width="6.4"/>
<path d="M713.8,408.0 C713.9,406.9 714.7,403.9 714.3,401.6 C713.9,399.3 712.9,396.3 711.5,394.0 C710.1,391.7 709.8,390.9 706.2,387.7 C702.6,384.5 694.2,378.5 690.0,375.0 C685.8,371.5 683.7,369.4 681.0,366.5 C678.3,363.6 676.1,361.2 673.9,357.7 C671.6,354.2 669.2,349.4 667.5,345.5 C665.8,341.6 664.7,338.5 663.5,334.6 C662.3,330.7 661.0,325.6 660.2,322.0 C659.4,318.4 659.1,314.5 658.9,313.0" stroke="#919191" stroke-width="2.8"/>
<path d="M239.6,430.1 C241.4,427.5 246.4,419.3 250.5,414.5 C254.6,409.7 259.5,405.4 264.3,401.2 C269.1,397.0 274.3,393.0 279.5,389.2 C284.7,385.4 289.8,381.7 295.3,378.6 C300.8,375.5 306.5,372.5 312.5,370.4 C318.5,368.3 325.9,366.6 331.5,365.8 C337.1,365.0 341.2,365.0 346.0,365.3 C350.8,365.6 358.0,367.4 360.4,367.8" stroke="#616161" stroke-width="7.8" stroke-linecap="butt"/>
<path d="M239.6,430.1 C241.4,427.5 246.4,419.3 250.5,414.5 C254.6,409.7 259.5,405.4 264.3,401.2 C269.1,397.0 274.3,393.0 279.5,389.2 C284.7,385.4 289.8,381.7 295.3,378.6 C300.8,375.5 306.5,372.5 312.5,370.4 C318.5,368.3 325.9,366.6 331.5,365.8 C337.1,365.0 341.2,365.0 346.0,365.3 C350.8,365.6 358.0,367.4 360.4,367.8" stroke="#969696" stroke-width="3.4" stroke-linecap="butt"/>
<path d="M203.5,538.0 C205.6,531.0 213.8,502.8 215.9,495.8" stroke="#5c5c5c" stroke-width="8.5" stroke-linecap="butt"/>
<path d="M203.5,538.0 C205.6,531.0 213.8,502.8 215.9,495.8" stroke="#858585" stroke-width="3.5" stroke-linecap="butt"/>
<path d="M196.2,558.6 L198.4,552.4" stroke="#555" stroke-width="8" stroke-linecap="butt"/>
<path d="M504.6,438.6 C507.0,441.0 516.6,450.4 519.0,452.8" stroke="#5a5a5a" stroke-width="9" stroke-linecap="butt"/>
<path d="M504.6,438.6 C507.0,441.0 516.6,450.4 519.0,452.8" stroke="#8f8f8f" stroke-width="5" stroke-linecap="butt"/>
<path d="M690.4,559.3 C692.0,558.3 698.2,554.1 699.7,553.1" stroke="#5a5a5a" stroke-width="9" stroke-linecap="butt"/>
<path d="M690.4,559.3 C692.0,558.3 698.2,554.1 699.7,553.1" stroke="#8f8f8f" stroke-width="5" stroke-linecap="butt"/>
<path d="M709.5,424.0 C709.9,422.6 711.3,418.2 712.0,415.5 C712.7,412.8 713.5,409.2 713.8,408.0" stroke="#5a5a5a" stroke-width="9" stroke-linecap="butt"/>
<path d="M709.5,424.0 C709.9,422.6 711.3,418.2 712.0,415.5 C712.7,412.8 713.5,409.2 713.8,408.0" stroke="#8f8f8f" stroke-width="5" stroke-linecap="butt"/>
</g>

<!-- ===== BOXES ===== -->
<g id="boxes">
<rect class="box" x="350.5" y="73.3" width="152.7" height="101.2"/>
<rect class="box" x="102" y="197.3" width="67.7" height="50.3"/>
<rect class="box" x="351.8" y="224" width="97.6" height="85.8"/>
<rect class="box" x="491.5" y="270.8" width="109.1" height="149.3"/>
<rect class="box" x="731.6" y="249.6" width="120.8" height="192"/>
<g stroke="#555" stroke-width="1" fill="none">
<rect x="794.5" y="485.5" width="69.6" height="93.3"/>
<line x1="794.5" y1="532" x2="864.1" y2="532"/>
</g>
</g>

<!-- ===== LEADERS ===== -->
<g id="leaders">
<g class="ld">
<line x1="136" y1="188.8" x2="136" y2="197.3"/>
<line x1="364" y1="109.8" x2="364" y2="117.2"/>
<line x1="476" y1="139.2" x2="476" y2="148.5"/>
<line x1="425.5" y1="174.5" x2="425.5" y2="185.4"/>
<line x1="400.3" y1="310" x2="400.3" y2="321.6"/>
<line x1="462" y1="275.2" x2="478" y2="275.2"/>
<line x1="544.3" y1="190.9" x2="560.8" y2="190.9"/>
<line x1="687" y1="190" x2="700" y2="190"/>
<line x1="761" y1="283.2" x2="761" y2="308"/>
<line x1="719.2" y1="342.4" x2="731.5" y2="342.4"/>
<line x1="601" y1="343.2" x2="610" y2="343.2"/>
<line x1="420.6" y1="400.2" x2="420.6" y2="415.9"/>
<line x1="391.3" y1="498.8" x2="406.8" y2="498.8"/>
<line x1="588" y1="82.5" x2="600" y2="87"/>
</g>
<g fill="none" stroke="#333" stroke-width="1.3">
<path d="M190,213.2 L200.4,207.2" stroke="#e4e4e4" stroke-width="3.2"/><path d="M259.5,191.6 L249.7,188.6" stroke="#dcdcdc" stroke-width="3"/>
<path d="M349.8,89.8 L267.7,57.4 L268.3,194.3 L249.7,188.6" stroke-dasharray="30.4 1.4 1.8 1.4" stroke-dashoffset="27.7"/>
<path d="M171,223.8 L200.4,207.2" stroke-dasharray="1.8 2 40"/>
<path d="M351.5,257 L340.5,251 L322.5,272 L311,267.5" stroke-dasharray="9 1.5 2 1.5"/>
</g>
<circle cx="575.9" cy="74" r="14.6" fill="#f6f6f6" stroke="#222" stroke-width="1.2"/>

</g>

<!-- ===== LABELS ===== -->
<g id="labels">
<text class="lbl" x="136" y="187">7</text>
<text class="lbl" x="364" y="134.2">5</text>
<text class="lbl" x="476" y="135.6">6</text>
<text class="lbl" x="425.6" y="201.8">4</text>
<text class="lbl" x="400.3" y="339.3">11</text>
<text class="lbl" x="483.3" y="282.2">1</text>
<text class="lbl" x="537.5" y="198.2">2</text>
<text class="lbl" x="575.9" y="81">3</text>
<text class="lbl" x="708" y="197.4">8</text>
<text class="lbl" x="761" y="280">9</text>
<text class="lbl" x="708.2" y="350">10</text>
<text class="lbl" x="621.8" y="350.6">12</text>
<text class="lbl" x="421.2" y="433.3">13</text>
<text class="lbl" x="419.7" y="506">14</text>
<text class="lbl" x="807" y="503.6">3</text>
<text x="831.9" y="593.3" text-anchor="middle" font-family="'Liberation Sans',Arial,sans-serif" font-size="12.5" fill="#555">344026</text>
</g>
<!-- ===== RED FRAMES ===== -->
<g id="frames">
<path class="red" d="M95.5,154.6 H332.3 V211.4 H460.9 V346 H95.5 Z"/>
<rect class="red" x="527.6" y="54.8" width="129.1" height="231.4"/>
</g>

</svg>
</body>
</html>
